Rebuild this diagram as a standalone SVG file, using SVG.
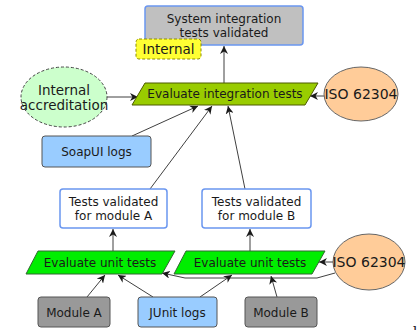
<svg xmlns="http://www.w3.org/2000/svg" width="419" height="330" viewBox="0 0 419 330">
  <style>
    text { font-family: "DejaVu Sans", "Liberation Sans", sans-serif; font-size: 12px; fill: #1a1a1a; text-anchor: middle; }
    text.big { font-size: 13.5px; }
    text.iso { font-size: 14px; }
    .result { fill: #ffffff; stroke: #6a96f0; stroke-width: 1.5; }
    .final { fill: #c0c0c0; stroke: #6a96f0; stroke-width: 1.5; }
    .tag { fill: #ffff33; stroke: #8c8c00; stroke-width: 1; stroke-dasharray: 3 2; }
    .log { fill: #99ccff; stroke: #555555; stroke-width: 1; }
    .module { fill: #999999; stroke: #555555; stroke-width: 1; }
    .integ { fill: #99cc00; stroke: #4d5a00; stroke-width: 1; }
    .unit { fill: #00ee00; stroke: #336633; stroke-width: 1; }
    .std { fill: #ffcc99; stroke: #666666; stroke-width: 1; }
    .accr { fill: #ccffcc; stroke: #444444; stroke-width: 1; stroke-dasharray: 3 2; }
    .edge { fill: none; stroke: #404040; stroke-width: 1; marker-end: url(#arrow); }
  </style>
  <defs>
    <marker id="arrow" viewBox="0 0 10 10" refX="10" refY="5" markerWidth="8" markerHeight="8" markerUnits="userSpaceOnUse" orient="auto">
      <path d="M0,0 L10,5 L0,10 L3,5 Z" fill="#1a1a1a"/>
    </marker>
  </defs>

  <g id="connectors">
    <path class="edge" d="M224,83 L224,46"/>
    <path class="edge" d="M107,97 L138,97"/>
    <path class="edge" d="M325,96 L310,96"/>
    <path class="edge" d="M132,136 L198,106"/>
    <path class="edge" d="M150,189 L212,106"/>
    <path class="edge" d="M245,189 L228,106"/>
    <path class="edge" d="M113,251 L113,229"/>
    <path class="edge" d="M250,251 L250,229"/>
    <path class="edge" d="M333,262 L319,262"/>
    <path class="edge" d="M335,273 L317,278 L185,278 L162,273"/>
    <path class="edge" d="M87,297 L105,275"/>
    <path class="edge" d="M153,297 L118,275"/>
    <path class="edge" d="M200,297 L232,275"/>
    <path class="edge" d="M277,297 L271,276"/>
  </g>

  <g id="system-validated">
    <rect class="final" x="145" y="6" width="158" height="39" rx="3"/>
    <text x="224" y="23">System integration</text>
    <text x="224" y="37">tests validated</text>
  </g>

  <g id="internal-tag">
    <rect class="tag" x="136" y="39" width="65" height="20" rx="3"/>
    <text class="big" x="168.5" y="54">Internal</text>
  </g>

  <g id="internal-accreditation">
    <ellipse class="accr" cx="64" cy="97" rx="43" ry="30"/>
    <text class="big" x="64" y="95">Internal</text>
    <text class="big" x="64" y="110">accreditation</text>
  </g>

  <g id="evaluate-integration">
    <polygon class="integ" points="145,83 318,83 305,105 132,105"/>
    <text x="225" y="98">Evaluate integration tests</text>
  </g>

  <g id="iso-top">
    <ellipse class="std" cx="361" cy="94" rx="37" ry="27"/>
    <text class="iso" x="361" y="99">ISO 62304</text>
  </g>

  <g id="soapui-logs">
    <rect class="log" x="42" y="136" width="109" height="31" rx="3"/>
    <text x="96.5" y="156">SoapUI logs</text>
  </g>

  <g id="validated-a">
    <rect class="result" x="60" y="189" width="107" height="39" rx="3"/>
    <text x="113.5" y="206">Tests validated</text>
    <text x="113.5" y="220">for module A</text>
  </g>

  <g id="validated-b">
    <rect class="result" x="202" y="189" width="109" height="39" rx="3"/>
    <text x="256.5" y="206">Tests validated</text>
    <text x="256.5" y="220">for module B</text>
  </g>

  <g id="evaluate-unit-a">
    <polygon class="unit" points="38,251 175,251 162,274 26,274"/>
    <text x="100" y="267">Evaluate unit tests</text>
  </g>

  <g id="evaluate-unit-b">
    <polygon class="unit" points="186,251 325,251 312,274 174,274"/>
    <text x="250" y="267">Evaluate unit tests</text>
  </g>

  <g id="iso-bottom">
    <ellipse class="std" cx="369" cy="262" rx="36" ry="28"/>
    <text class="iso" x="369" y="267">ISO 62304</text>
  </g>

  <g id="module-a">
    <rect class="module" x="38" y="297" width="72" height="30" rx="3"/>
    <text x="74" y="317">Module A</text>
  </g>

  <g id="junit-logs">
    <rect class="log" x="138" y="297" width="79" height="30" rx="3"/>
    <text x="177.5" y="317">JUnit logs</text>
  </g>

  <g id="module-b">
    <rect class="module" x="245" y="297" width="72" height="30" rx="3"/>
    <text x="281" y="317">Module B</text>
  </g>

  <text x="415" y="331" style="font-size:7px;font-weight:bold">1</text>
</svg>
